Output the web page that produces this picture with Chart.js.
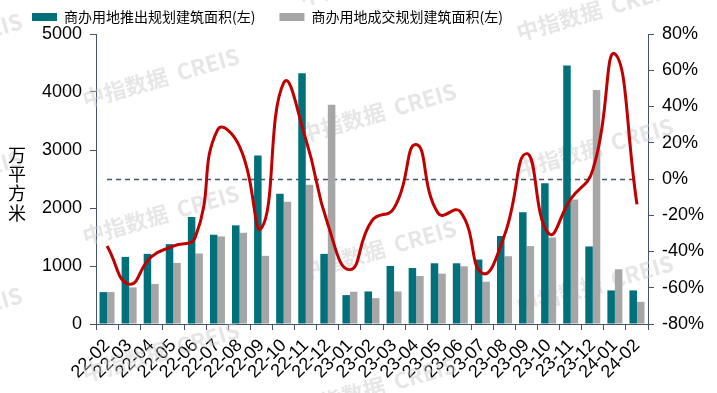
<!DOCTYPE html>
<html>
<head>
<meta charset="utf-8">
<script src="https://cdn.jsdelivr.net/npm/chart.js@4.4.1/dist/chart.umd.min.js"></script>
<style>
  html, body { margin: 0; padding: 0; background: #fff; }
</style>
</head>
<body>
<canvas id="landChart" width="717" height="393"></canvas>
<script>
// 月份
const months = ['22-02', '22-03', '22-04', '22-05', '22-06', '22-07', '22-08', '22-09', '22-10', '22-11', '22-12',
    '23-01', '23-02', '23-03', '23-04', '23-05', '23-06', '23-07', '23-08', '23-09', '23-10', '23-11', '23-12',
    '24-01', '24-02'];
// 推出规划建筑面积 (万平方米)
const launchedArea = [550, 1157, 1209, 1377, 1846, 1539, 1701, 2905, 2245, 4323, 1209,
    498, 561, 1001, 966, 1047, 1047, 1111, 1516, 1927, 2425, 4456, 1337, 579, 579];
// 成交规划建筑面积 (万平方米)
const soldArea = [550, 631, 689, 1053, 1215, 1510, 1574, 1175, 2106, 2402, 3779,
    556, 446, 561, 828, 868, 995, 729, 1169, 1343, 1493, 2147, 4034, 943, 382];
// 红线 (%)
const redLine = [-37, -58, -43, -37, -32, 27, 18, -27, 53, 22, -25,
    -50, -23, -16, 19, -19, -18, -52, -31, 14, -30, -11, 5, 69, -14];
const leftTicks = [0, 1000, 2000, 3000, 4000, 5000];
const rightTicks = [-80, -60, -40, -20, 0, 20, 40, 60, 80];

const axisColor = '#44546A';
const cjkFont = '"Noto Sans CJK SC", "Noto Sans", sans-serif';
const numFont = '"Liberation Sans", Arial, sans-serif';

// 水印
const watermark = {
    id: 'watermark',
    beforeDatasetsDraw(chart) {
        const ctx = chart.ctx;
        ctx.save();
        ctx.font = 'bold 22px ' + cjkFont;
        ctx.fillStyle = 'rgba(200, 200, 200, 0.45)';
        for (let c = -1; c <= 2; c++) {
            for (let r = -1; r <= 3; r++) {
                const x = 83 + 217 * c;
                const y = 100 + 35 * c + 137 * r;
                ctx.save();
                ctx.translate(x, y);
                ctx.rotate(-16 * Math.PI / 180);
                ctx.fillText('中指数据  CREIS', 0, 0);
                ctx.restore();
            }
        }
        ctx.restore();
    }
};

// 0% 虚线和纵轴标题
const extras = {
    id: 'extras',
    beforeDatasetsDraw(chart) {
        const ctx = chart.ctx;
        const xs = chart.scales.x;
        const y0 = Math.round(chart.scales.y1.getPixelForValue(0)) + 0.5;
        ctx.save();
        ctx.strokeStyle = axisColor;
        ctx.lineWidth = 1.5;
        ctx.setLineDash([5, 4]);
        ctx.beginPath();
        ctx.moveTo(xs.getPixelForValue(0), y0);
        ctx.lineTo(xs.getPixelForValue(months.length - 1), y0);
        ctx.stroke();
        ctx.restore();
    },
    afterDraw(chart) {
        const ctx = chart.ctx;
        ctx.save();
        ctx.font = '18px ' + cjkFont;
        ctx.fillStyle = '#000';
        ctx.textAlign = 'center';
        ctx.textBaseline = 'middle';
        const chars = ['万', '平', '方', '米'];
        chars.forEach((ch, i) => ctx.fillText(ch, 17, 155 + i * 19.3));
        ctx.restore();
    }
};

new Chart(document.getElementById('landChart'), {
    type: 'bar',
    data: {
        labels: months,
        datasets: [
            {
                label: '商办用地推出规划建筑面积(左)',
                data: launchedArea,
                backgroundColor: '#00707A',
                borderWidth: 0,
                barPercentage: 1,
                categoryPercentage: 0.68,
                yAxisID: 'y',
                order: 1
            },
            {
                label: '商办用地成交规划建筑面积(左)',
                data: soldArea,
                backgroundColor: '#A6A6A6',
                borderWidth: 0,
                barPercentage: 1,
                categoryPercentage: 0.68,
                yAxisID: 'y',
                order: 1
            },
            {
                type: 'line',
                label: 'line',
                data: redLine,
                borderColor: '#C00000',
                borderWidth: 3,
                pointRadius: 0,
                tension: 0.5,
                fill: false,
                yAxisID: 'y1',
                order: 0
            }
        ]
    },
    options: {
        responsive: false,
        animation: false,
        layout: {
            padding: { left: 22, top: 0, right: 0, bottom: 0 }
        },
        plugins: {
            tooltip: { enabled: false },
            legend: {
                position: 'top',
                align: 'start',
                labels: {
                    boxWidth: 25,
                    boxHeight: 8,
                    padding: 10,
                    color: '#000',
                    font: { family: cjkFont, size: 14 },
                    filter: item => item.datasetIndex < 2,
                    generateLabels(chart) {
                        const items = Chart.defaults.plugins.legend.labels.generateLabels(chart);
                        items.forEach(it => { it.text = it.text + '\u3000'; it.lineWidth = 0; });
                        return items;
                    }
                }
            }
        },
        scales: {
            x: {
                grid: {
                    drawOnChartArea: false,
                    tickLength: 6,
                    color: axisColor
                },
                border: { color: axisColor, width: 1 },
                ticks: {
                    autoSkip: false,
                    minRotation: 45,
                    maxRotation: 45,
                    padding: 5,
                    color: '#000',
                    font: { family: numFont, size: 18 }
                },
                afterFit(scale) { scale.height = 69; }
            },
            y: {
                position: 'left',
                min: 0,
                max: 5000,
                afterBuildTicks(scale) { scale.ticks = leftTicks.map(v => ({ value: v })); },
                grid: {
                    drawOnChartArea: false,
                    tickLength: 6,
                    color: axisColor
                },
                border: { color: axisColor, width: 1 },
                ticks: {
                    padding: 8,
                    color: '#000',
                    font: { family: numFont, size: 18 },
                    callback: v => String(v)
                },
                afterFit(scale) { scale.width = 74; }
            },
            y1: {
                position: 'right',
                min: -80,
                max: 80,
                afterBuildTicks(scale) { scale.ticks = rightTicks.map(v => ({ value: v })); },
                grid: {
                    drawOnChartArea: false,
                    tickLength: 6,
                    color: axisColor
                },
                border: { color: axisColor, width: 1 },
                ticks: {
                    padding: 8,
                    color: '#000',
                    font: { family: numFont, size: 18 },
                    callback: v => v + '%'
                },
                afterFit(scale) { scale.width = 69; }
            }
        }
    },
    plugins: [watermark, extras]
});
</script>
</body>
</html>
